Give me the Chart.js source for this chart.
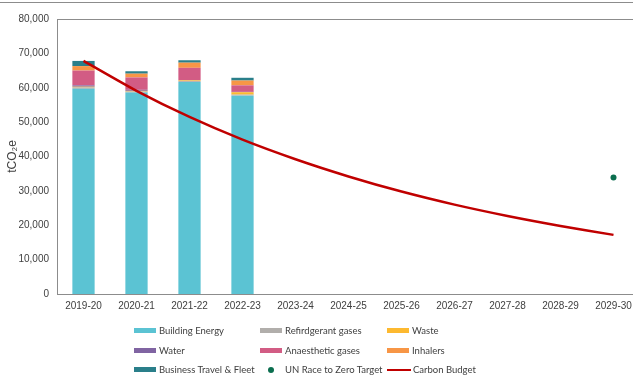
<!DOCTYPE html>
<html>
<head>
<meta charset="utf-8">
<script src="https://cdn.jsdelivr.net/npm/chart.js@4"></script>
<style>
  body { margin: 0; overflow: hidden; background: #fff; font-family: "Liberation Sans", Arial, sans-serif; }
  #wrap { position: relative; width: 645px; height: 377px; }
  #topline { position: absolute; left: 0; top: 2px; width: 645px; height: 1px; background: #8c8c8c; }
  #legend { position: absolute; left: 134px; top: 321px; display: grid;
    grid-template-columns: 126px 127px auto; grid-auto-rows: 19.5px; font-family: Lato, sans-serif; font-size: 9.5px; color: #404040; }
  .item { display: flex; align-items: center; white-space: nowrap; }
  .sw { width: 22px; height: 5px; margin-right: 3px; flex: none; }
  .dot { width: 22px; height: 6px; margin-right: 3px; flex: none; position: relative; }
  .dot::after { content: ""; position: absolute; left: 8px; top: 0; width: 6px; height: 6px; border-radius: 50%; background: var(--c); }
  .ln { width: 24px; height: 2px; margin-right: 2px; flex: none; }
</style>
</head>
<body>
<div id="wrap">
  <div id="topline"></div>
  <canvas id="chart" width="645" height="377"></canvas>
  <div id="legend"></div>
</div>
<script>
const categories = ['2019-20', '2020-21', '2021-22', '2022-23', '2023-24', '2024-25', '2025-26', '2026-27', '2027-28', '2028-29', '2029-30'];

// tCO2e by source (only the first four years have actuals)
const buildingEnergy = [59700, 58600, 61700, 57700];
const refrigerantGases = [400, 300, 300, 300];
const waste = [200, 200, 200, 700];
const water = [400, 300, 0, 100];
const anaestheticGases = [4300, 3600, 3600, 1900];
const inhalers = [1300, 1100, 1500, 1400];
const businessTravel = [1500, 700, 700, 800];

const unTarget = [null, null, null, null, null, null, null, null, null, null, 33900];
const carbonBudget = [67800, 59100, 51500, 44900, 39200, 34200, 29800, 26000, 22700, 19800, 17200];

const yTicks = [0, 10000, 20000, 30000, 40000, 50000, 60000, 70000, 80000];

const stackSeries = [
  ['Building Energy', buildingEnergy, '#5bc3d3'],
  ['Refirdgerant gases', refrigerantGases, '#b1aeab'],
  ['Waste', waste, '#fdb930'],
  ['Water', water, '#8064a2'],
  ['Anaesthetic gases', anaestheticGases, '#d25c84'],
  ['Inhalers', inhalers, '#f79646'],
  ['Business Travel & Fleet', businessTravel, '#2a7f8a']
];

const datasets = stackSeries.map(([label, data, color]) => ({
  type: 'bar',
  label: label,
  data: data,
  backgroundColor: color,
  stack: 'emissions',
  barPercentage: 0.42,
  categoryPercentage: 1,
  order: 3
}));

datasets.push({
  type: 'line',
  label: 'UN Race to Zero Target',
  data: unTarget,
  stack: 'un',
  showLine: false,
  pointRadius: 3,
  pointBackgroundColor: '#0b6e4f',
  pointBorderWidth: 0,
  order: 1
});
datasets.push({
  type: 'line',
  label: 'Carbon Budget',
  data: carbonBudget,
  stack: 'budget',
  borderColor: '#c00000',
  borderWidth: 2.5,
  pointRadius: 0,
  tension: 0.25,
  fill: false,
  order: 2
});

// box round the plot area
const plotBox = {
  id: 'plotBox',
  afterDraw(chart) {
    const a = chart.chartArea, c = chart.ctx;
    c.save();
    c.strokeStyle = '#8c8c8c';
    c.lineWidth = 1;
    c.strokeRect(Math.round(a.left) + 0.5, Math.round(a.top) + 0.5, a.right - a.left, a.bottom - a.top);
    c.restore();
  }
};

new Chart(document.getElementById('chart'), {
  data: { labels: categories, datasets: datasets },
  plugins: [plotBox],
  options: {
    responsive: false,
    animation: false,
    layout: { padding: { top: 19, right: 5, bottom: 58, left: 0 } },
    plugins: { legend: { display: false }, tooltip: { enabled: false } },
    scales: {
      x: {
        stacked: true,
        grid: { display: false, drawTicks: false },
        border: { display: false },
        ticks: { color: '#404040', font: { family: 'Liberation Sans', size: 10 }, padding: 6, maxRotation: 0, autoSkip: false },
        afterFit(s) { s.height = 25; }
      },
      y: {
        stacked: true,
        min: 0,
        max: 80000,
        grid: { display: false, drawTicks: false },
        border: { display: false },
        afterBuildTicks(s) { s.ticks = yTicks.map(v => ({ value: v })); },
        ticks: {
          color: '#404040',
          font: { family: 'Liberation Sans', size: 10 },
          padding: 8,
          callback: v => v.toLocaleString('en-US')
        },
        title: { display: true, text: 'tCO₂e', color: '#404040', font: { family: 'Liberation Sans', size: 12 }, padding: 5 },
        afterFit(s) { s.width = 57; }
      }
    }
  }
});

// legend laid out in three columns like the original
const legendItems = stackSeries.map(([label, , color]) => ({ label, color, kind: 'box' }));
legendItems.push({ label: 'UN Race to Zero Target', color: '#0b6e4f', kind: 'dot' });
legendItems.push({ label: 'Carbon Budget', color: '#c00000', kind: 'line' });
const legendEl = document.getElementById('legend');
legendItems.forEach(it => {
  const d = document.createElement('div');
  d.className = 'item';
  const s = document.createElement('span');
  s.className = it.kind === 'box' ? 'sw' : (it.kind === 'dot' ? 'dot' : 'ln');
  if (it.kind === 'dot') s.style.setProperty('--c', it.color); else s.style.background = it.color;
  d.appendChild(s);
  d.appendChild(document.createTextNode(it.label));
  legendEl.appendChild(d);
});
</script>
</body>
</html>
